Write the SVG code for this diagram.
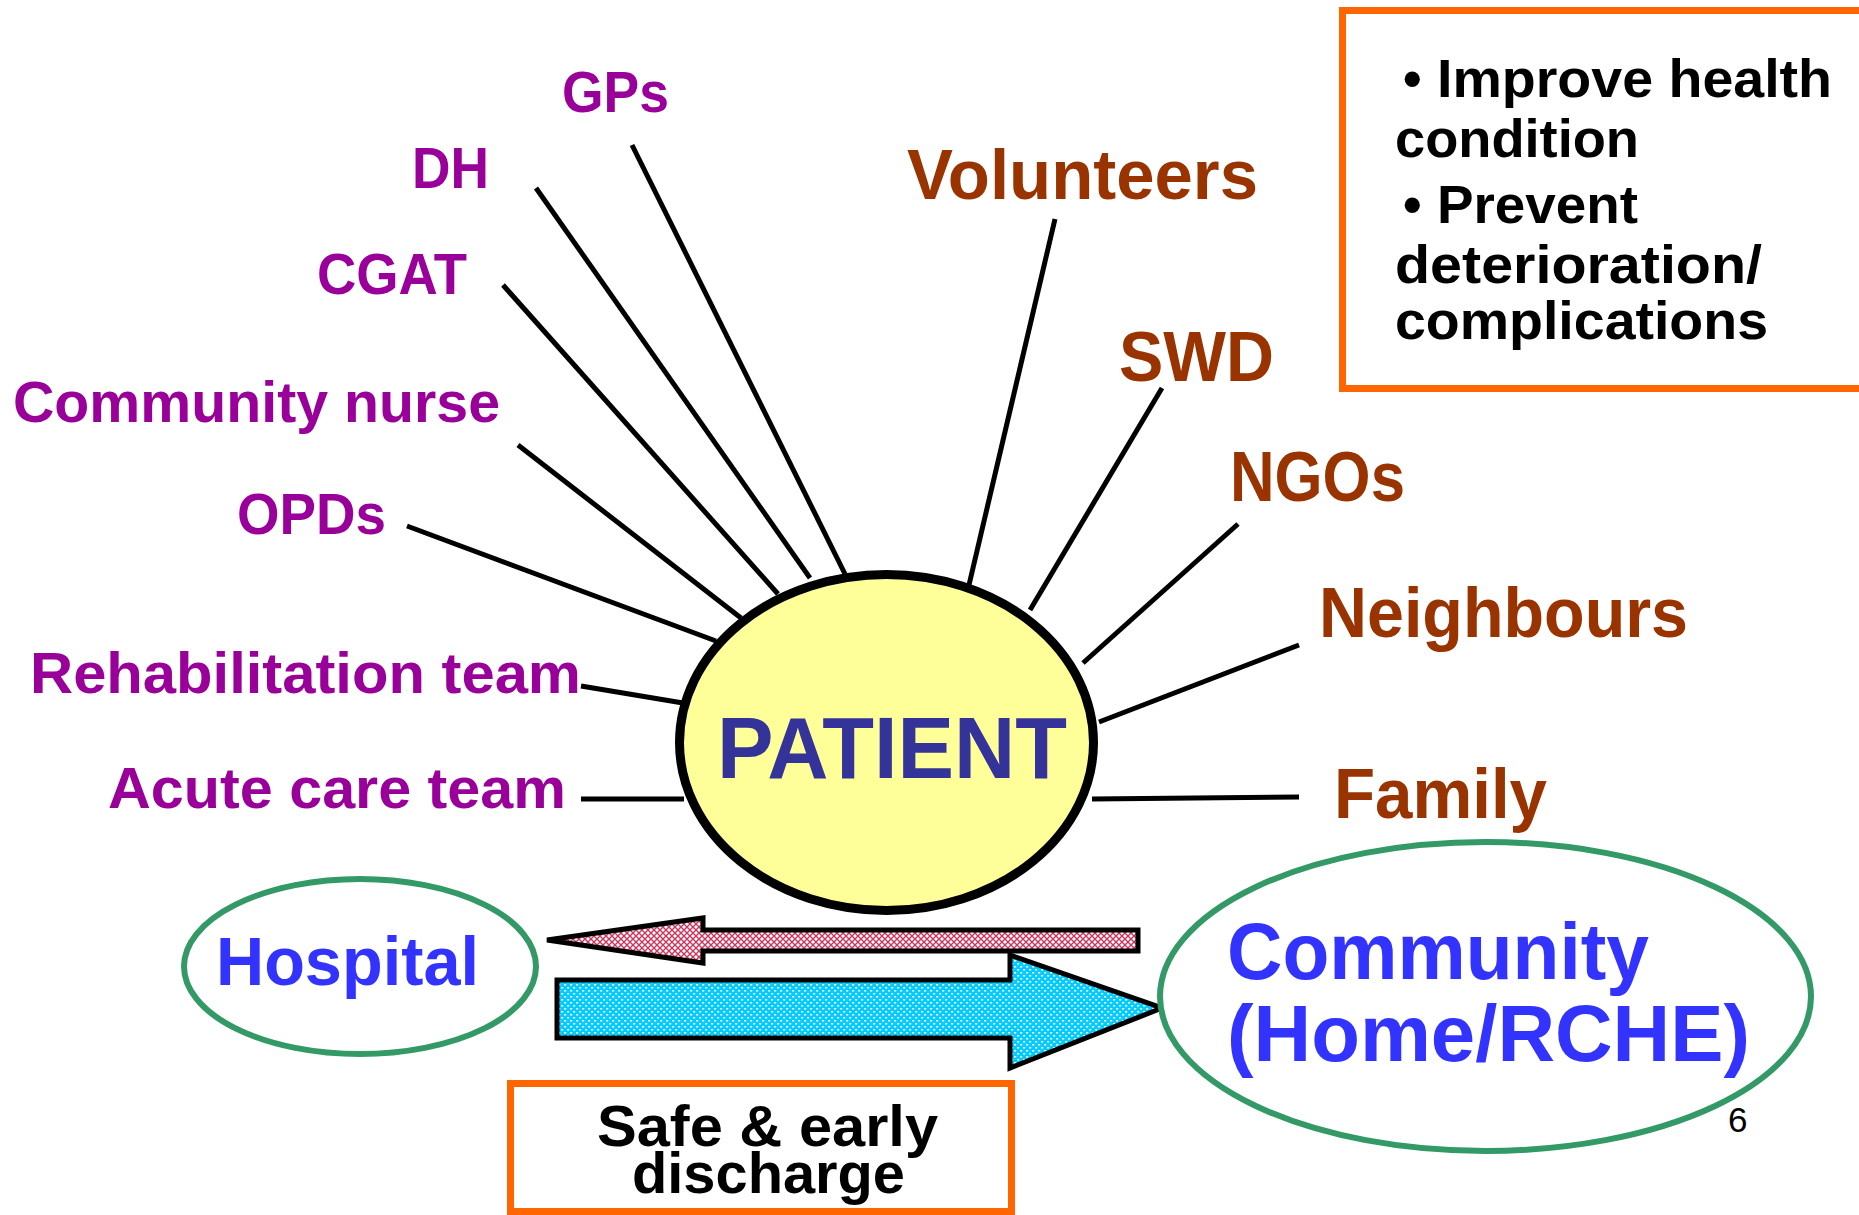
<svg xmlns="http://www.w3.org/2000/svg" width="1859" height="1215" viewBox="0 0 1859 1215">
  <style>
    .t { font-family: 'Liberation Sans Narrow', 'Liberation Sans', Arial, sans-serif; font-weight: bold; }
    .left { font-size: 58px; fill: #990099; }
    .right { font-size: 70px; fill: #993300; }
    .place { fill: #3333FF; }
    .blk { fill: #000; }
    .goal { font-size: 53px; }
    .dis { font-size: 57px; }
    .link { stroke: #000; stroke-width: 5; fill: none; }
    .green { fill: #fff; stroke: #339966; stroke-width: 6; }
    .orange { fill: #fff; stroke: #FF6600; stroke-width: 7; }
    .arrow { stroke: #000; stroke-width: 5; stroke-linejoin: miter; }
  </style>
  <defs>
    <pattern id="pinkHatch" width="6" height="6" patternUnits="userSpaceOnUse">
      <rect width="6" height="6" fill="#fff"/>
      <path d="M0,0 L6,6 M6,0 L0,6" stroke="#C8385E" stroke-width="1.4"/>
    </pattern>
    <pattern id="cyanDots" width="6" height="6" patternUnits="userSpaceOnUse">
      <rect width="6" height="6" fill="#00CCFF"/>
      <rect x="0" y="0" width="2.2" height="1.5" fill="#fff"/>
      <rect x="3" y="3" width="2.2" height="1.5" fill="#fff"/>
    </pattern>
  </defs>
  <rect width="1859" height="1215" fill="#fff"/>

  <g id="connectors">
    <line class="link" x1="632" y1="145" x2="845" y2="574"/>
    <line class="link" x1="536" y1="188" x2="810" y2="578"/>
    <line class="link" x1="503" y1="285" x2="778" y2="594"/>
    <line class="link" x1="518" y1="445" x2="741" y2="618"/>
    <line class="link" x1="407" y1="526" x2="716" y2="641"/>
    <line class="link" x1="581" y1="686" x2="683" y2="703"/>
    <line class="link" x1="581" y1="799" x2="684" y2="799"/>
    <line class="link" x1="1055" y1="219" x2="969" y2="585"/>
    <line class="link" x1="1162" y1="388" x2="1030" y2="610"/>
    <line class="link" x1="1238" y1="524" x2="1083" y2="663"/>
    <line class="link" x1="1299" y1="645" x2="1099" y2="722"/>
    <line class="link" x1="1299" y1="797" x2="1092" y2="799"/>
    <polygon id="arrow-to-community" class="arrow" fill="url(#cyanDots)" points="557,980 1010,980 1010,955 1162,1008 1010,1068 1010,1038 557,1038"/>
    <polygon id="arrow-to-hospital" class="arrow" fill="url(#pinkHatch)" points="547,940 703,918 703,930 1138,930 1138,951 703,951 703,963"/>
  </g>

  <g id="patient">
    <ellipse cx="886.5" cy="742.5" rx="207" ry="168" fill="#FFFF99" stroke="#000" stroke-width="9"/>
    <text x="717" y="778" font-family="'Liberation Sans', Arial, sans-serif" font-weight="bold" font-size="88" fill="#333399" textLength="350" lengthAdjust="spacingAndGlyphs">PATIENT</text>
  </g>

  <g id="gps"><text class="t left" x="562" y="112" textLength="107" lengthAdjust="spacingAndGlyphs">GPs</text></g>
  <g id="dh"><text class="t left" x="412" y="188" textLength="77" lengthAdjust="spacingAndGlyphs">DH</text></g>
  <g id="cgat"><text class="t left" x="317" y="294" textLength="150" lengthAdjust="spacingAndGlyphs">CGAT</text></g>
  <g id="community-nurse"><text class="t left" x="13" y="422" textLength="487" lengthAdjust="spacingAndGlyphs">Community nurse</text></g>
  <g id="opds"><text class="t left" x="237" y="534" textLength="149" lengthAdjust="spacingAndGlyphs">OPDs</text></g>
  <g id="rehabilitation-team"><text class="t left" x="30" y="693" textLength="551" lengthAdjust="spacingAndGlyphs">Rehabilitation team</text></g>
  <g id="acute-care-team"><text class="t left" x="108" y="808" textLength="458" lengthAdjust="spacingAndGlyphs">Acute care team</text></g>

  <g id="volunteers"><text class="t right" x="907" y="199" textLength="351" lengthAdjust="spacingAndGlyphs">Volunteers</text></g>
  <g id="swd"><text class="t right" x="1119" y="381" textLength="155" lengthAdjust="spacingAndGlyphs">SWD</text></g>
  <g id="ngos"><text class="t right" x="1230" y="501" textLength="175" lengthAdjust="spacingAndGlyphs">NGOs</text></g>
  <g id="neighbours"><text class="t right" x="1319" y="637" textLength="369" lengthAdjust="spacingAndGlyphs">Neighbours</text></g>
  <g id="family"><text class="t right" x="1334" y="818" textLength="213" lengthAdjust="spacingAndGlyphs">Family</text></g>

  <g id="goals">
    <rect class="orange" x="1342.5" y="10.5" width="600" height="378"/>
    <text class="t blk goal" x="1403" y="97">•</text>
    <text class="t blk goal" x="1437" y="97" textLength="395" lengthAdjust="spacingAndGlyphs">Improve health</text>
    <text class="t blk goal" x="1395" y="157" textLength="244" lengthAdjust="spacingAndGlyphs">condition</text>
    <text class="t blk goal" x="1403" y="223">•</text>
    <text class="t blk goal" x="1437" y="223" textLength="201" lengthAdjust="spacingAndGlyphs">Prevent</text>
    <text class="t blk goal" x="1395" y="283" textLength="367" lengthAdjust="spacingAndGlyphs">deterioration/</text>
    <text class="t blk goal" x="1395" y="339" textLength="373" lengthAdjust="spacingAndGlyphs">complications</text>
  </g>

  <g id="hospital">
    <ellipse class="green" cx="360" cy="966.5" rx="176" ry="87.5"/>
    <text class="t place" font-size="68" x="216" y="985" textLength="263" lengthAdjust="spacingAndGlyphs">Hospital</text>
  </g>

  <g id="community">
    <ellipse class="green" cx="1485.5" cy="996.5" rx="325.5" ry="154.5"/>
    <text class="t place" font-size="80" x="1227" y="979" textLength="422" lengthAdjust="spacingAndGlyphs">Community</text>
    <text class="t place" font-size="80" x="1227" y="1061" textLength="523" lengthAdjust="spacingAndGlyphs">(Home/RCHE)</text>
  </g>

  <g id="discharge">
    <rect class="orange" x="510.5" y="1083.5" width="501" height="128"/>
    <text class="t blk dis" x="597" y="1146" textLength="341" lengthAdjust="spacingAndGlyphs">Safe &amp; early</text>
    <text class="t blk dis" x="632" y="1193" textLength="273" lengthAdjust="spacingAndGlyphs">discharge</text>
  </g>

  <g id="page-number">
    <text x="1728" y="1132" font-family="'Liberation Sans', Arial, sans-serif" font-size="35" fill="#000">6</text>
  </g>
</svg>
